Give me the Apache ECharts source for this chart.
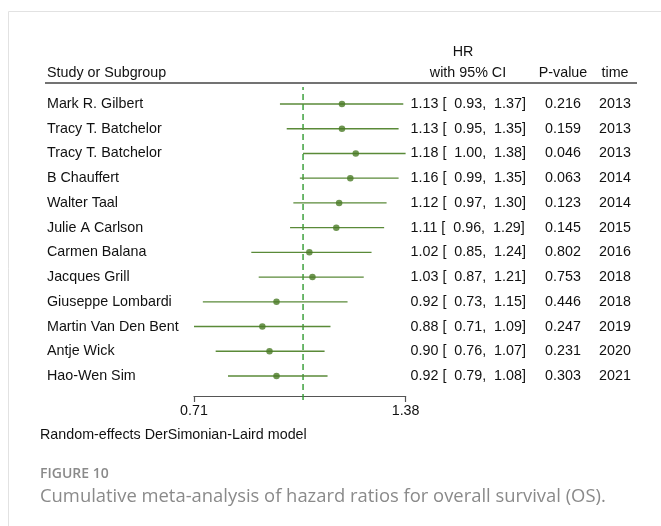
<!DOCTYPE html>
<html><head><meta charset="utf-8">
<script src="https://cdn.jsdelivr.net/npm/echarts@6/dist/echarts.min.js"></script>
<style>html,body{margin:0;padding:0;background:#fff}#c{width:661px;height:526px}</style>
</head><body><div id="c"></div>
<script>
const studies = ['Mark R. Gilbert','Tracy T. Batchelor','Tracy T. Batchelor','B Chauffert','Walter Taal','Julie A Carlson','Carmen Balana','Jacques Grill','Giuseppe Lombardi','Martin Van Den Bent','Antje Wick','Hao-Wen Sim'];
const hr = [1.13,1.13,1.18,1.16,1.12,1.11,1.02,1.03,0.92,0.88,0.90,0.92];
const ciLow = [0.93,0.95,1.00,0.99,0.97,0.96,0.85,0.87,0.73,0.71,0.76,0.79];
const ciHigh = [1.37,1.35,1.38,1.35,1.30,1.29,1.24,1.21,1.15,1.09,1.07,1.08];
const pValues = ['0.216','0.159','0.046','0.063','0.123','0.145','0.802','0.753','0.446','0.247','0.231','0.303'];
const years = ['2013','2013','2013','2014','2014','2015','2016','2018','2018','2019','2020','2021'];
const axisTicks = [0.71, 1.38];
const nullValue = 1;

const FONT = '"Liberation Sans", Arial, sans-serif';
const FS = 14.3;
const TXT = '#111';
const hrText = hr.map((v,i)=> v.toFixed(2)+' [  '+ciLow[i].toFixed(2)+',  '+ciHigh[i].toFixed(2)+']');

const chart = echarts.init(document.getElementById('c'), null, {renderer:'canvas'});
const lblBase = {fontFamily: FONT, fontSize: FS, color: TXT};
function catAxis(data, extra){
  return Object.assign({type:'category', gridIndex:0, inverse:true, data:data,
    axisLine:{show:false}, axisTick:{show:false}, splitLine:{show:false}}, extra);
}
chart.setOption({
  animation:false,
  backgroundColor:'#fff',
  grid:[
    {left:194, right:255.4, top:91.6, bottom:137.6},
    {left:194, right:255.4, top:87, bottom:126}
  ],
  xAxis:[
    {type:'log', gridIndex:0, min:axisTicks[0], max:axisTicks[1], logBase:10, offset:7.6,
     axisLine:{show:true, lineStyle:{color:'#555', width:1.2}},
     axisTick:{show:true, customValues:axisTicks, length:6, lineStyle:{color:'#555', width:1.2}},
     axisLabel:{show:true, customValues:axisTicks, margin:8, formatter:v=>Number(v).toFixed(2), fontFamily:FONT, fontSize:FS, color:TXT},
     splitLine:{show:false}},
    {type:'log', gridIndex:1, min:axisTicks[0], max:axisTicks[1], logBase:10, show:false}
  ],
  yAxis:[
    catAxis(studies, {position:'left', axisLabel:Object.assign({align:'left', margin:147}, lblBase)}),
    catAxis(hrText, {position:'right', axisLabel:Object.assign({align:'left', margin:5}, lblBase)}),
    catAxis(pValues, {position:'right', offset:157.4, axisLabel:Object.assign({align:'center', margin:0}, lblBase)}),
    catAxis(years, {position:'right', offset:209.4, axisLabel:Object.assign({align:'center', margin:0}, lblBase)}),
    {type:'value', gridIndex:1, min:0, max:1, show:false}
  ],
  series:[
    {type:'line', xAxisIndex:1, yAxisIndex:4, data:[[nullValue,0],[nullValue,1]], symbol:'none',
     lineStyle:{color:'#2f9a2f', width:1.4, type:[6,4]}, silent:true, z:1},
    {type:'custom', xAxisIndex:0, yAxisIndex:0,
     data: studies.map((s,i)=>[ciLow[i], ciHigh[i], i]),
     encode:{x:[0,1], y:2},
     renderItem:function(params, api){
       const a = api.coord([api.value(0), api.value(2)]);
       const b = api.coord([api.value(1), api.value(2)]);
       return {type:'line', shape:{x1:a[0], y1:a[1], x2:b[0], y2:b[1]},
         style:{stroke:'#5a8a38', lineWidth:1.4}};
     }, z:2},
    {type:'scatter', xAxisIndex:0, yAxisIndex:0, data: hr.map((v,i)=>[v,i]),
     symbol:'circle', symbolSize:6.5, itemStyle:{color:'#4a7a26'}, z:3}
  ],
  graphic:[
    {type:'line', shape:{x1:8.5, y1:11.5, x2:661, y2:11.5}, style:{stroke:'#e2e2e2', lineWidth:1}},
    {type:'line', shape:{x1:8.5, y1:11.5, x2:8.5, y2:526}, style:{stroke:'#e2e2e2', lineWidth:1}},
    {type:'text', x:463, y:52, style:{text:'HR', font:FS+'px '+FONT, fill:TXT, align:'center', verticalAlign:'middle'}},
    {type:'text', x:468, y:73, style:{text:'with 95% CI', font:FS+'px '+FONT, fill:TXT, align:'center', verticalAlign:'middle'}},
    {type:'text', x:563, y:73, style:{text:'P-value', font:FS+'px '+FONT, fill:TXT, align:'center', verticalAlign:'middle'}},
    {type:'text', x:615, y:73, style:{text:'time', font:FS+'px '+FONT, fill:TXT, align:'center', verticalAlign:'middle'}},
    {type:'text', x:47, y:73, style:{text:'Study or Subgroup', font:FS+'px '+FONT, fill:TXT, align:'left', verticalAlign:'middle'}},
    {type:'line', shape:{x1:45, y1:83, x2:637, y2:83}, style:{stroke:'#444', lineWidth:1.5}},
    {type:'text', x:40, y:435, style:{text:'Random-effects DerSimonian-Laird model', font:FS+'px '+FONT, fill:TXT, align:'left', verticalAlign:'middle'}},
    {type:'text', x:40, y:474, style:{text:'FIGURE 10', font:'600 14px "Open Sans", sans-serif', fill:'#8a8a8a', align:'left', verticalAlign:'middle'}},
    {type:'text', x:40, y:497, style:{text:'Cumulative meta-analysis of hazard ratios for overall survival (OS).', font:'18.4px "Open Sans", sans-serif', fill:'#8a8a8a', align:'left', verticalAlign:'middle'}}
  ]
});
</script></body></html>
